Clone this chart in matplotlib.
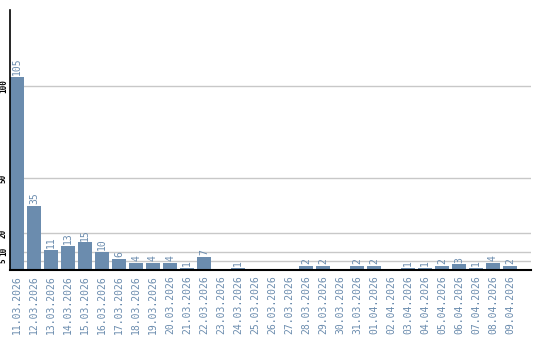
import matplotlib.pyplot as plt

# Daten
dates = ['11.03.2026', '12.03.2026', '13.03.2026', '14.03.2026', '15.03.2026',
         '16.03.2026', '17.03.2026', '18.03.2026', '19.03.2026', '20.03.2026',
         '21.03.2026', '22.03.2026', '23.03.2026', '24.03.2026', '25.03.2026',
         '26.03.2026', '27.03.2026', '28.03.2026', '29.03.2026', '30.03.2026',
         '31.03.2026', '01.04.2026', '02.04.2026', '03.04.2026', '04.04.2026',
         '05.04.2026', '06.04.2026', '07.04.2026', '08.04.2026', '09.04.2026']
counts = [105, 35, 11, 13, 15, 10, 6, 4, 4, 4,
          1, 7, 0, 1, 0, 0, 0, 2, 2, 0,
          2, 2, 0, 1, 1, 2, 3, 1, 4, 2]
yticks = [5, 10, 20, 50, 100]

blue = '#6b8cae'
W, H = 540, 340

fig = plt.figure(figsize=(W / 100, H / 100), dpi=100)
ax = fig.add_axes([10 / W, 1 - 270 / H, 521 / W, 260 / H])

x = list(range(len(dates)))
bw = 14 / 17
ax.bar(x, counts, width=bw, align='edge', color=blue, zorder=2)

# Werte ueber den Balken (0 wird nicht beschriftet)
for xi, c in zip(x, counts):
    if c > 0:
        ax.text(xi + bw / 2, c + 1, str(c), rotation=90, ha='center', va='bottom',
                color=blue, fontsize=7, family='DejaVu Sans Mono')

ax.set_xlim(0, 521 / 17)
ax.set_ylim(0, 141.5)

for t in yticks:
    ax.axhline(t, color='#c8c8c8', lw=1, zorder=1)

ax.set_yticks(yticks)
ax.set_yticklabels([str(t) for t in yticks], rotation=90, va='center',
                   fontsize=5.5, fontweight='bold', family='DejaVu Sans Mono')
ax.tick_params(axis='y', length=0, pad=1.5)

ax.set_xticks([xi + bw / 2 for xi in x])
ax.set_xticklabels(dates, rotation=90, color=blue, fontsize=7,
                   family='DejaVu Sans Mono')
ax.tick_params(axis='x', length=0, pad=4)

for s in ['top', 'right']:
    ax.spines[s].set_visible(False)
ax.spines['left'].set_linewidth(1.2)
ax.spines['bottom'].set_linewidth(1.5)
ax.spines['left'].set_zorder(3)
ax.spines['bottom'].set_zorder(3)

fig.savefig('out.png', dpi=100)
